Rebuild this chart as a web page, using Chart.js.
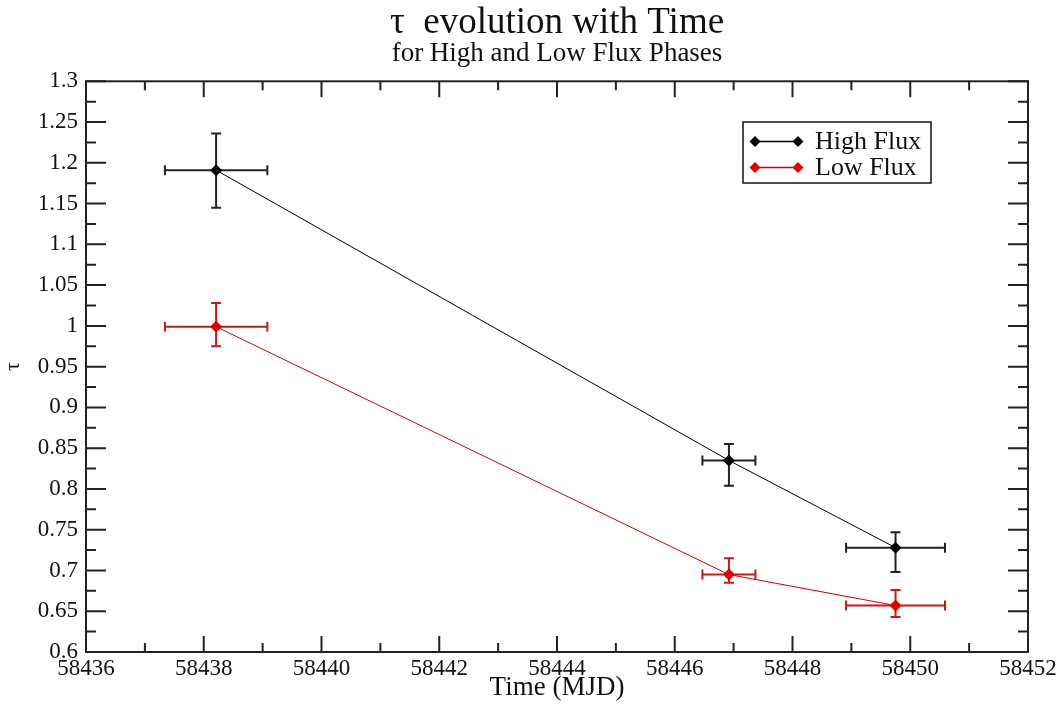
<!DOCTYPE html>
<html>
<head>
<meta charset="utf-8">
<script src="https://cdn.jsdelivr.net/npm/chart.js@4.4.1/dist/chart.umd.min.js"></script>
<style>
  html, body { margin: 0; padding: 0; background: #fff; }
  canvas { display: block; }
</style>
</head>
<body>
<canvas id="c" width="1064" height="704"></canvas>
<script>
// ---- data ----
const seriesNames = ['High Flux', 'Low Flux'];

const highX    = [58438.21, 58446.92, 58449.75];
const highY    = [1.191, 0.835, 0.728];
const highXErr = [0.87, 0.45, 0.84];
const highYErrPlus  = [0.045, 0.020, 0.019];
const highYErrMinus = [0.046, 0.031, 0.030];

const lowX    = [58438.21, 58446.92, 58449.75];
const lowY    = [0.999, 0.695, 0.657];
const lowXErr = [0.87, 0.45, 0.84];
const lowYErrPlus  = [0.029, 0.020, 0.019];
const lowYErrMinus = [0.024, 0.010, 0.014];

const xTicks      = [58436, 58438, 58440, 58442, 58444, 58446, 58448, 58450, 58452];
const xTickLabels = ['58436', '58438', '58440', '58442', '58444', '58446', '58448', '58450', '58452'];
const xMinorTicks = [58437, 58439, 58441, 58443, 58445, 58447, 58449, 58451];

const yTicks      = [0.6, 0.65, 0.7, 0.75, 0.8, 0.85, 0.9, 0.95, 1, 1.05, 1.1, 1.15, 1.2, 1.25, 1.3];
const yTickLabels = ['0.6', '0.65', '0.7', '0.75', '0.8', '0.85', '0.9', '0.95', '1', '1.05', '1.1', '1.15', '1.2', '1.25', '1.3'];
const yMinorTicks = [0.625, 0.675, 0.725, 0.775, 0.825, 0.875, 0.925, 0.975, 1.025, 1.075, 1.125, 1.175, 1.225, 1.275];

const FONT = "'Liberation Serif', 'DejaVu Serif', serif";

// ---- error bars drawn through the scales ----
const errorBarPlugin = {
  id: 'errorBars',
  beforeDatasetsDraw(chart) {
    const ctx = chart.ctx;
    const xs = chart.scales.x, ys = chart.scales.y;
    chart.data.datasets.forEach(ds => {
      const e = ds.errors;
      ctx.save();
      ctx.strokeStyle = e.color;
      ctx.lineWidth = 2;
      ds.data.forEach((p, i) => {
        const px = xs.getPixelForValue(p.x);
        const py = ys.getPixelForValue(p.y);
        const xl = xs.getPixelForValue(p.x - e.x[i]);
        const xr = xs.getPixelForValue(p.x + e.x[i]);
        const yt = ys.getPixelForValue(p.y + e.yPlus[i]);
        const yb = ys.getPixelForValue(p.y - e.yMinus[i]);
        const cap = 5;
        ctx.beginPath();
        ctx.moveTo(xl, py); ctx.lineTo(xr, py);
        ctx.moveTo(xl, py - cap); ctx.lineTo(xl, py + cap);
        ctx.moveTo(xr, py - cap); ctx.lineTo(xr, py + cap);
        ctx.moveTo(px, yt); ctx.lineTo(px, yb);
        ctx.moveTo(px - cap, yt); ctx.lineTo(px + cap, yt);
        ctx.moveTo(px - cap, yb); ctx.lineTo(px + cap, yb);
        ctx.stroke();
      });
      ctx.restore();
    });
  }
};

// ---- frame with inward ticks on all four sides ----
const framePlugin = {
  id: 'frame',
  afterDatasetsDraw(chart) {
    const ctx = chart.ctx;
    const a = chart.chartArea;
    const xs = chart.scales.x, ys = chart.scales.y;
    ctx.save();
    ctx.strokeStyle = '#222';
    ctx.lineWidth = 2;
    ctx.strokeRect(a.left, a.top, a.right - a.left, a.bottom - a.top);
    ctx.beginPath();
    const vMaj = 16, vMin = 9, hMaj = 20, hMin = 10;
    xTicks.forEach(v => {
      const x = xs.getPixelForValue(v);
      ctx.moveTo(x, a.bottom); ctx.lineTo(x, a.bottom - vMaj);
      ctx.moveTo(x, a.top); ctx.lineTo(x, a.top + vMaj);
    });
    xMinorTicks.forEach(v => {
      const x = xs.getPixelForValue(v);
      ctx.moveTo(x, a.bottom); ctx.lineTo(x, a.bottom - vMin);
      ctx.moveTo(x, a.top); ctx.lineTo(x, a.top + vMin);
    });
    yTicks.forEach(v => {
      const y = ys.getPixelForValue(v);
      ctx.moveTo(a.left, y); ctx.lineTo(a.left + hMaj, y);
      ctx.moveTo(a.right, y); ctx.lineTo(a.right - hMaj, y);
    });
    yMinorTicks.forEach(v => {
      const y = ys.getPixelForValue(v);
      ctx.moveTo(a.left, y); ctx.lineTo(a.left + hMin, y);
      ctx.moveTo(a.right, y); ctx.lineTo(a.right - hMin, y);
    });
    ctx.stroke();
    ctx.restore();
  }
};

// ---- boxed legend inside the plot (Grace style) ----
const boxLegendPlugin = {
  id: 'boxLegend',
  afterDraw(chart) {
    const ctx = chart.ctx;
    const bx = 743, by = 122, bw = 188, bh = 61;
    ctx.save();
    ctx.fillStyle = '#fff';
    ctx.fillRect(bx, by, bw, bh);
    ctx.strokeStyle = '#111';
    ctx.lineWidth = 1.5;
    ctx.strokeRect(bx, by, bw, bh);
    chart.data.datasets.forEach((ds, i) => {
      const y = 141.5 + i * 26;
      const x0 = 755, x1 = 798;
      ctx.strokeStyle = ds.borderColor;
      ctx.lineWidth = 1.5;
      ctx.beginPath(); ctx.moveTo(x0, y); ctx.lineTo(x1, y); ctx.stroke();
      ctx.fillStyle = ds.backgroundColor;
      [x0, x1].forEach(x => {
        ctx.beginPath();
        ctx.moveTo(x, y - 5.5); ctx.lineTo(x + 5.5, y);
        ctx.lineTo(x, y + 5.5); ctx.lineTo(x - 5.5, y);
        ctx.closePath(); ctx.fill();
      });
      ctx.fillStyle = '#111';
      ctx.font = '26px ' + FONT;
      ctx.textBaseline = 'middle';
      ctx.textAlign = 'left';
      ctx.fillText(ds.label, 815, y + 1);
    });
    ctx.restore();
  }
};

const toPoints = (xs, ys) => xs.map((x, i) => ({ x: x, y: ys[i] }));

new Chart(document.getElementById('c'), {
  type: 'scatter',
  data: {
    datasets: [
      {
        label: seriesNames[0],
        data: toPoints(highX, highY),
        showLine: true,
        borderColor: '#000',
        backgroundColor: '#000',
        borderWidth: 1,
        pointStyle: 'rectRot',
        pointRadius: 6,
        pointBorderWidth: 0,
        errors: { x: highXErr, yPlus: highYErrPlus, yMinus: highYErrMinus, color: '#222' }
      },
      {
        label: seriesNames[1],
        data: toPoints(lowX, lowY),
        showLine: true,
        borderColor: '#d00000',
        backgroundColor: '#e00000',
        borderWidth: 1,
        pointStyle: 'rectRot',
        pointRadius: 6,
        pointBorderWidth: 0,
        errors: { x: lowXErr, yPlus: lowYErrPlus, yMinus: lowYErrMinus, color: '#c81818' }
      }
    ]
  },
  options: {
    responsive: false,
    animation: false,
    devicePixelRatio: 1,
    layout: { padding: { left: 0, right: 36, top: 0, bottom: 0 } },
    plugins: {
      legend: { display: false },
      tooltip: { enabled: false },
      title: {
        display: true,
        fullSize: false,
        text: 'τ  evolution with Time',
        color: '#111',
        font: { family: FONT, size: 37, weight: 'normal', lineHeight: 1.0 },
        padding: { top: 5, bottom: 0 }
      },
      subtitle: {
        display: true,
        fullSize: false,
        text: 'for High and Low Flux Phases',
        color: '#111',
        font: { family: FONT, size: 27, weight: 'normal', lineHeight: 0.9 },
        padding: { top: 0, bottom: 15 }
      }
    },
    scales: {
      x: {
        type: 'linear',
        min: 58436,
        max: 58452,
        afterBuildTicks: s => { s.ticks = xTicks.map(v => ({ value: v })); },
        afterFit: s => { s.height = 52; },
        grid: { display: false, drawTicks: false },
        border: { display: false },
        ticks: {
          color: '#111',
          padding: 3,
          maxRotation: 0,
          autoSkip: false,
          font: { family: FONT, size: 23 },
          callback: (v, i) => xTickLabels[i]
        },
        title: {
          display: true,
          text: 'Time (MJD)',
          color: '#111',
          font: { family: FONT, size: 27 },
          padding: { top: 0, bottom: 0 }
        }
      },
      y: {
        type: 'linear',
        min: 0.6,
        max: 1.3,
        afterBuildTicks: s => { s.ticks = yTicks.map(v => ({ value: v })); },
        afterFit: s => { s.width = 86; },
        grid: { display: false, drawTicks: false },
        border: { display: false },
        ticks: {
          color: '#111',
          padding: 8,
          autoSkip: false,
          font: { family: FONT, size: 23 },
          callback: (v, i) => yTickLabels[i]
        },
        title: {
          display: true,
          text: 'τ',
          color: '#111',
          font: { family: FONT, size: 22 },
          padding: { top: 0, bottom: 0 }
        }
      }
    }
  },
  plugins: [errorBarPlugin, framePlugin, boxLegendPlugin]
});
</script>
</body>
</html>
